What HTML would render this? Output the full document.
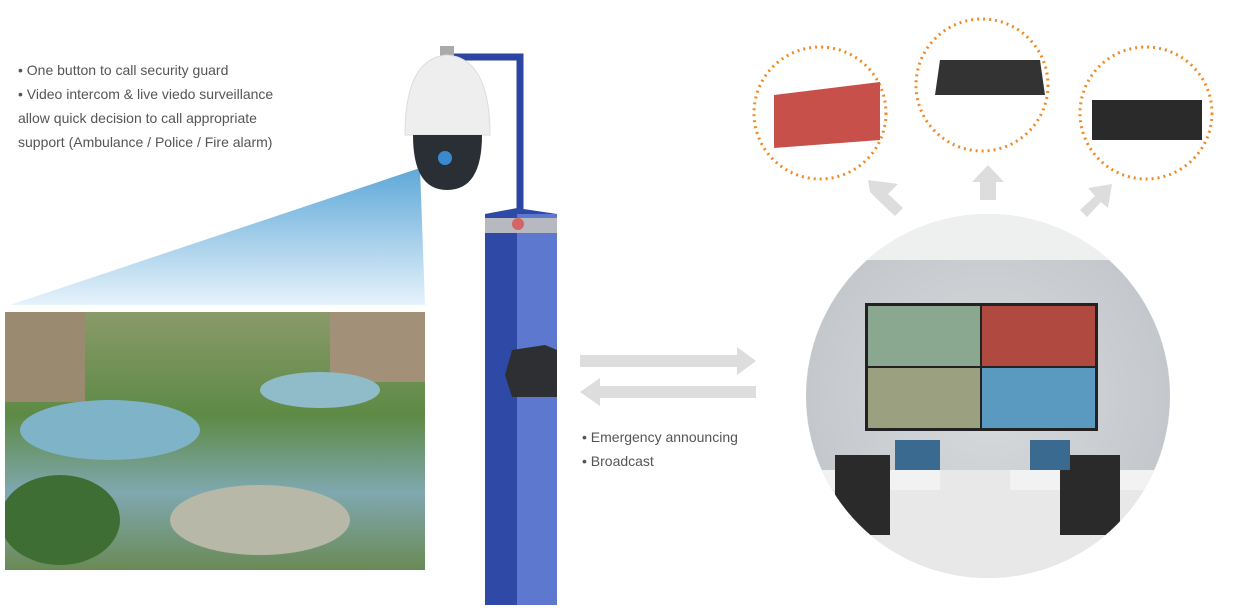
<!DOCTYPE html>
<html><head><meta charset="utf-8"><style>
body{margin:0;background:#fff;width:1233px;height:610px;overflow:hidden;font-family:"Liberation Sans",sans-serif}
.t{position:absolute;font-size:14px;color:#555;line-height:24px}
</style></head><body>
<svg width="1233" height="610" style="position:absolute;left:0;top:0">
<defs>
<linearGradient id="beam" x1="0" y1="0" x2="0" y2="1"><stop offset="0" stop-color="#5ea8d8"/><stop offset="1" stop-color="#e6f2fb"/></linearGradient>
<linearGradient id="land" x1="0" y1="0" x2="0" y2="1"><stop offset="0" stop-color="#8a9a6a"/><stop offset=".4" stop-color="#5d8a45"/><stop offset=".7" stop-color="#7fa8b0"/><stop offset="1" stop-color="#6a8a55"/></linearGradient>
<radialGradient id="room" cx=".5" cy=".5" r=".5"><stop offset="0" stop-color="#d8dadc"/><stop offset="1" stop-color="#c4c8cc"/></radialGradient>
<clipPath id="cc"><circle cx="988" cy="396" r="182"/></clipPath>
<clipPath id="lc"><rect x="5" y="312" width="420" height="258"/></clipPath>
</defs>
<polygon points="420,168 10,305 425,305" fill="url(#beam)"/>
<g clip-path="url(#lc)">
<rect x="5" y="312" width="420" height="258" fill="url(#land)"/>
<rect x="5" y="312" width="80" height="90" fill="#9a8a70"/>
<rect x="330" y="312" width="95" height="70" fill="#a39078"/>
<ellipse cx="110" cy="430" rx="90" ry="30" fill="#7fb4c8"/>
<ellipse cx="320" cy="390" rx="60" ry="18" fill="#8fbcc8"/>
<ellipse cx="260" cy="520" rx="90" ry="35" fill="#b8b8a8"/>
<ellipse cx="60" cy="520" rx="60" ry="45" fill="#3f6e35"/>
</g>
<path d="M452 57 H520 V212" fill="none" stroke="#2b45a0" stroke-width="7"/>
<rect x="440" y="46" width="14" height="12" fill="#aaa"/>
<path d="M405 135 Q405 58 447 55 Q490 58 490 135 Z" fill="#eeeeee" stroke="#ddd"/>
<path d="M413 135 H482 Q482 190 447 190 Q413 190 413 135Z" fill="#2a2e35"/>
<circle cx="445" cy="158" r="7" fill="#3a8ad0"/>
<polygon points="485,214 517,208 557,214 557,605 485,605" fill="#2e4aa6"/>
<rect x="517" y="214" width="40" height="391" fill="#5c78cf"/>
<rect x="485" y="218" width="72" height="15" fill="#b8b8c0"/>
<circle cx="518" cy="224" r="6" fill="#e04040" opacity=".7"/>
<polygon points="512,350 545,345 557,350 557,397 512,397 505,375" fill="#2d2f33"/>
<polygon points="580,355 737,355 737,347 756,361 737,375 737,367 580,367" fill="#ddd"/>
<polygon points="756,386 600,386 600,378 580,392 600,406 600,398 756,398" fill="#ddd"/>
<circle cx="988" cy="396" r="182" fill="url(#room)"/>
<g clip-path="url(#cc)">
<rect x="800" y="210" width="380" height="50" fill="#eef0f0"/>
<rect x="800" y="470" width="380" height="120" fill="#e8e8e8"/>
<rect x="865" y="303" width="233" height="128" fill="#222"/>
<rect x="868" y="306" width="112" height="60" fill="#8aa890"/>
<rect x="982" y="306" width="113" height="60" fill="#b04a40"/>
<rect x="868" y="368" width="112" height="60" fill="#9aa080"/>
<rect x="982" y="368" width="113" height="60" fill="#5a9ac0"/>
<rect x="820" y="470" width="120" height="20" fill="#f2f2f2"/>
<rect x="1010" y="470" width="170" height="20" fill="#f2f2f2"/>
<rect x="835" y="455" width="55" height="80" fill="#2a2a2a"/>
<rect x="1060" y="455" width="60" height="80" fill="#2a2a2a"/>
<rect x="895" y="440" width="45" height="30" fill="#3a6a90"/>
<rect x="1030" y="440" width="40" height="30" fill="#3a6a90"/>
</g>
<circle cx="820" cy="113" r="66" fill="#fff" stroke="#f08a24" stroke-width="3" stroke-dasharray="2 4"/>
<circle cx="982" cy="85" r="66" fill="#fff" stroke="#f08a24" stroke-width="3" stroke-dasharray="2 4"/>
<circle cx="1146" cy="113" r="66" fill="#fff" stroke="#f08a24" stroke-width="3" stroke-dasharray="2 4"/>
<polygon points="774,95 880,82 880,140 774,148" fill="#c8504a"/>
<polygon points="940,60 1040,60 1045,95 935,95" fill="#333"/>
<rect x="1092" y="100" width="110" height="40" fill="#2a2a2a"/>
<g fill="#ddd">
<polygon points="870,192 880,202 895,216 903,208 888,194 898,184 868,180"/>
<polygon points="980,200 980,182 972,182 988,165 1004,182 996,182 996,200"/>
<polygon points="1080,210 1095,196 1088,188 1112,184 1108,208 1101,202 1087,217"/>
</g>
</svg>
<div class="t" style="left:18px;top:58px">• One button to call security guard<br>• Video intercom &amp; live viedo surveillance<br>allow quick decision to call appropriate<br>support (Ambulance / Police / Fire alarm)</div>
<div class="t" style="left:582px;top:425px">• Emergency announcing<br>• Broadcast</div>
</body></html>
